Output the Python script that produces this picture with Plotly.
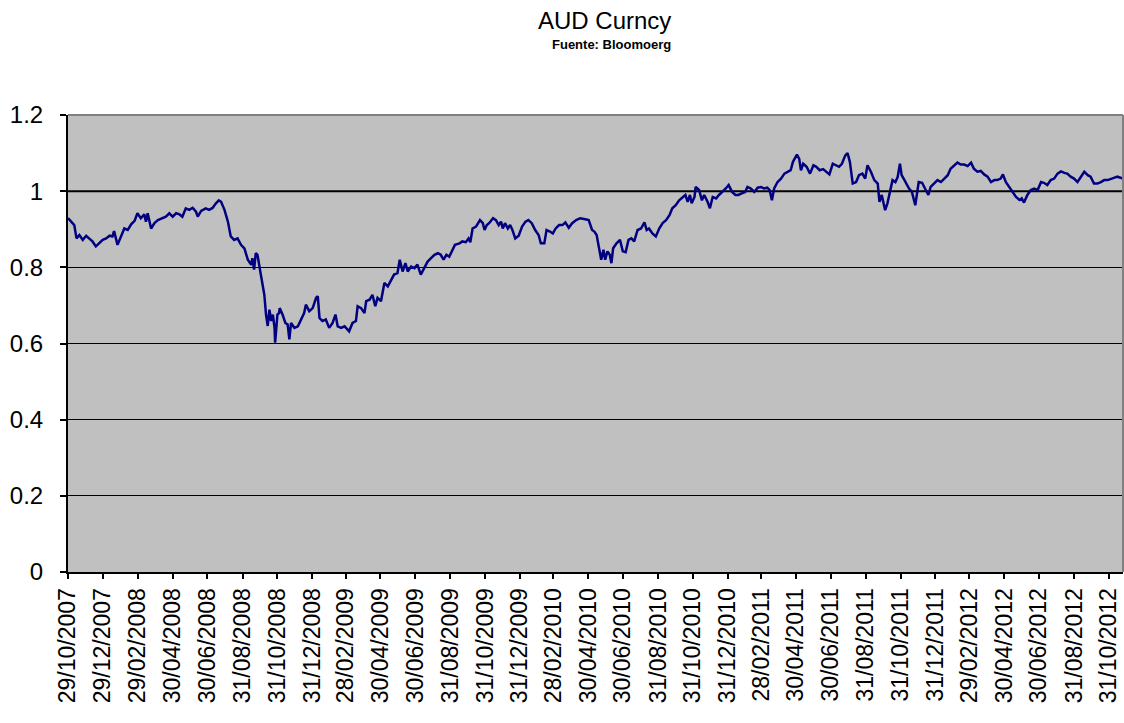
import pandas as pd
import plotly.graph_objects as go

# Days since 29/10/2007 and AUD values
days_a = [0,5,11,15,20,26,32,37,43,49,55,61,67,73,78,81,87,93,99,105,111,117,122,128,134,137,140,146,152,158,
          166,172,178,184,190,196,201,207,213,219,225,228,234,242,248,254,260,265,269,275,281,286,292,298,304,310,
          316,322,324,327,330,333,339,345,348,351,354,357,360,363,364,368,371]
aud_a = [0.929,0.920,0.911,0.876,0.885,0.872,0.883,0.876,0.868,0.855,0.863,0.872,0.876,0.883,0.881,0.895,0.859,0.881,0.902,0.898,
         0.913,0.922,0.942,0.929,0.939,0.920,0.942,0.902,0.916,0.924,0.929,0.933,0.942,0.933,0.942,0.939,0.933,0.955,0.951,0.956,
         0.946,0.933,0.948,0.955,0.951,0.956,0.968,0.976,0.972,0.951,0.920,0.881,0.872,0.876,0.859,0.850,0.820,0.807,0.824,0.794,
         0.837,0.833,0.780,0.728,0.676,0.646,0.689,0.659,0.676,0.641,0.602,0.676,0.680]

days_b = [372,377,382,386,389,392,398,404,409,415,418,424,430,436,439,442,447,453,459,465,470,474,480,486,491,494,500,506,
          509,515,521,524,530,535,540,544,550,556,562,568,573,579,583,588,593,597,603,609,614,620,626,632,638,644,650,655,
          660,665,670,674,680,688,693,699,704,707,711,717,724,729,732,736]
aud_b = [0.693,0.676,0.654,0.650,0.611,0.654,0.641,0.645,0.663,0.680,0.702,0.685,0.693,0.720,0.724,0.667,0.659,0.663,0.641,0.654,
         0.676,0.645,0.641,0.645,0.637,0.632,0.654,0.659,0.698,0.693,0.680,0.711,0.715,0.728,0.698,0.720,0.711,0.759,0.750,0.767,
         0.781,0.785,0.820,0.789,0.811,0.789,0.802,0.798,0.807,0.781,0.798,0.815,0.824,0.833,0.837,0.833,0.820,0.833,0.828,0.841,
         0.859,0.863,0.868,0.866,0.876,0.866,0.902,0.907,0.924,0.916,0.898,0.911]

days_c = [740,747,752,757,761,764,768,773,777,781,786,792,798,804,809,815,821,827,831,837,841,847,852,857,863,869,874,880,
          886,893,900,907,915,921,925,929,934,937,941,944,948,952,955,958,964,970,975,980,985,990,995,1001,1007,1013,1017,
          1021,1027,1033,1039,1045,1051,1057,1062,1068,1074,1080,1085,1089,1093,1096,1101,1103]
aud_c = [0.916,0.929,0.924,0.911,0.920,0.902,0.916,0.902,0.911,0.898,0.876,0.883,0.907,0.920,0.924,0.916,0.898,0.885,0.863,0.863,
         0.898,0.894,0.889,0.902,0.911,0.911,0.918,0.904,0.916,0.924,0.929,0.927,0.924,0.898,0.894,0.885,0.850,0.820,0.846,0.820,
         0.842,0.833,0.811,0.850,0.863,0.872,0.842,0.840,0.872,0.876,0.868,0.898,0.902,0.918,0.898,0.902,0.889,0.881,0.902,0.916,
         0.924,0.937,0.955,0.963,0.976,0.985,0.990,0.972,0.990,0.968,0.985,1.011]

days_d = [1109,1114,1118,1124,1128,1133,1139,1144,1150,1156,1161,1167,1173,1178,1184,1190,1194,1200,1206,1212,1218,1223,
          1229,1233,1237,1241,1247,1253,1259,1264,1270,1274,1281,1285,1288,1292,1298,1304,1310,1315,1321,1327,1333,1338,
          1344,1349,1355,1360,1366,1370,1374,1379,1385,1390,1396,1401,1405,1411,1417,1423,1426,1430,1436,1440,1444,1449,
          1454,1458,1462,1465,1470]
aud_d = [1.003,0.976,0.990,0.972,0.955,0.985,0.981,0.990,0.998,1.007,1.016,0.998,0.990,0.990,0.994,0.998,1.011,1.007,0.998,1.009,
         1.011,1.007,1.009,1.003,0.976,1.007,1.024,1.033,1.046,1.051,1.055,1.077,1.096,1.085,1.055,1.072,1.064,1.046,1.068,1.064,
         1.055,1.058,1.051,1.044,1.072,1.068,1.064,1.072,1.094,1.100,1.077,1.020,1.024,1.042,1.046,1.033,1.068,1.051,1.029,1.020,
         0.972,0.990,0.950,0.968,0.994,1.029,1.024,1.037,1.072,1.042,1.029]

days_e = [1478,1483,1489,1495,1501,1506,1512,1516,1522,1528,1534,1540,1546,1551,1557,1563,1569,1575,1581,1587,1592,1598,
          1604,1610,1616,1622,1628,1633,1639,1643,1648,1654,1660,1666,1672,1676,1680,1686,1692,1698,1704,1710,1715,1721,
          1727,1733,1739,1745,1751,1756,1762,1768,1774,1780,1786,1792,1797,1803,1809,1815,1821,1827,1833,1838,1844,1850,1854]
aud_e = [1.007,0.998,0.963,1.024,1.022,1.007,0.990,1.011,1.020,1.029,1.024,1.033,1.042,1.059,1.068,1.075,1.070,1.070,1.066,1.075,
         1.059,1.051,1.053,1.044,1.038,1.024,1.029,1.029,1.033,1.044,1.024,1.011,1.000,0.985,0.977,0.981,0.970,0.990,1.003,1.007,
         1.003,1.024,1.022,1.016,1.029,1.033,1.046,1.052,1.048,1.046,1.038,1.033,1.024,1.038,1.051,1.042,1.038,1.020,1.020,1.024,
         1.029,1.029,1.033,1.035,1.038,1.035,1.033]

tick_labels = ["29/10/2007","29/12/2007","29/02/2008","30/04/2008","30/06/2008","31/08/2008","31/10/2008","31/12/2008",
               "28/02/2009","30/04/2009","30/06/2009","31/08/2009","31/10/2009","31/12/2009","28/02/2010","30/04/2010",
               "30/06/2010","31/08/2010","31/10/2010","31/12/2010","28/02/2011","30/04/2011","30/06/2011","31/08/2011",
               "31/10/2011","31/12/2011","29/02/2012","30/04/2012","30/06/2012","31/08/2012","31/10/2012"]

start_date = "2007-10-29"
end_date = "2012-11-25"

days = days_a + days_b + days_c + days_d + days_e
aud = aud_a + aud_b + aud_c + aud_d + aud_e
assert len(days) == len(aud), (len(days), len(aud))

dates = pd.Timestamp(start_date) + pd.to_timedelta(days, unit="D")
tick_vals = pd.to_datetime(tick_labels, format="%d/%m/%Y")

FONT = "Liberation Sans, Arial, sans-serif"

fig = go.Figure()
fig.add_trace(go.Scatter(x=dates, y=aud, mode="lines",
                         line=dict(color="#000080", width=2.5), showlegend=False))

fig.update_layout(
    width=1124, height=723,
    margin=dict(l=68, r=1, t=115, b=151),
    paper_bgcolor="white", plot_bgcolor="#C0C0C0",
    font=dict(family=FONT, color="black"),
    xaxis=dict(type="date", range=[start_date, end_date], automargin=False,
               tickvals=tick_vals, ticktext=tick_labels, tickangle=-90,
               tickfont=dict(size=23, family=FONT),
               ticks="outside", ticklen=5, tickwidth=2, tickcolor="black",
               showline=True, linecolor="black", linewidth=2,
               showgrid=False, zeroline=False),
    yaxis=dict(range=[0, 1.2], dtick=0.2, tick0=0, automargin=False,
               tickfont=dict(size=24, family=FONT),
               ticks="outside", ticklen=6, tickwidth=2, tickcolor="black",
               ticklabelstandoff=12,
               showline=True, linecolor="black", linewidth=2,
               showgrid=True, gridcolor="black", gridwidth=1, zeroline=False),
    annotations=[
        dict(text="AUD Curncy", xref="paper", yref="paper", x=0.509, y=1.0, yshift=95,
             showarrow=False, font=dict(size=24, family=FONT), xanchor="center", yanchor="middle"),
        dict(text="<b>Fuente: Bloomoerg</b>", xref="paper", yref="paper", x=0.515, y=1.0, yshift=71,
             showarrow=False, font=dict(size=13, family=FONT), xanchor="center", yanchor="middle"),
    ],
    shapes=[
        dict(type="line", xref="paper", yref="paper", x0=0, x1=1, y0=1, y1=1,
             line=dict(color="#808080", width=2)),
        dict(type="line", xref="paper", yref="paper", x0=1, x1=1, y0=0, y1=1,
             line=dict(color="#808080", width=2)),
        dict(type="line", xref="paper", yref="y", x0=0, x1=1, y0=1, y1=1,
             line=dict(color="black", width=2), layer="below"),
    ],
)

fig.write_html("out.html", config={"displayModeBar": False},
               post_script="document.body.style.margin='0px';document.body.style.overflow='hidden';")
